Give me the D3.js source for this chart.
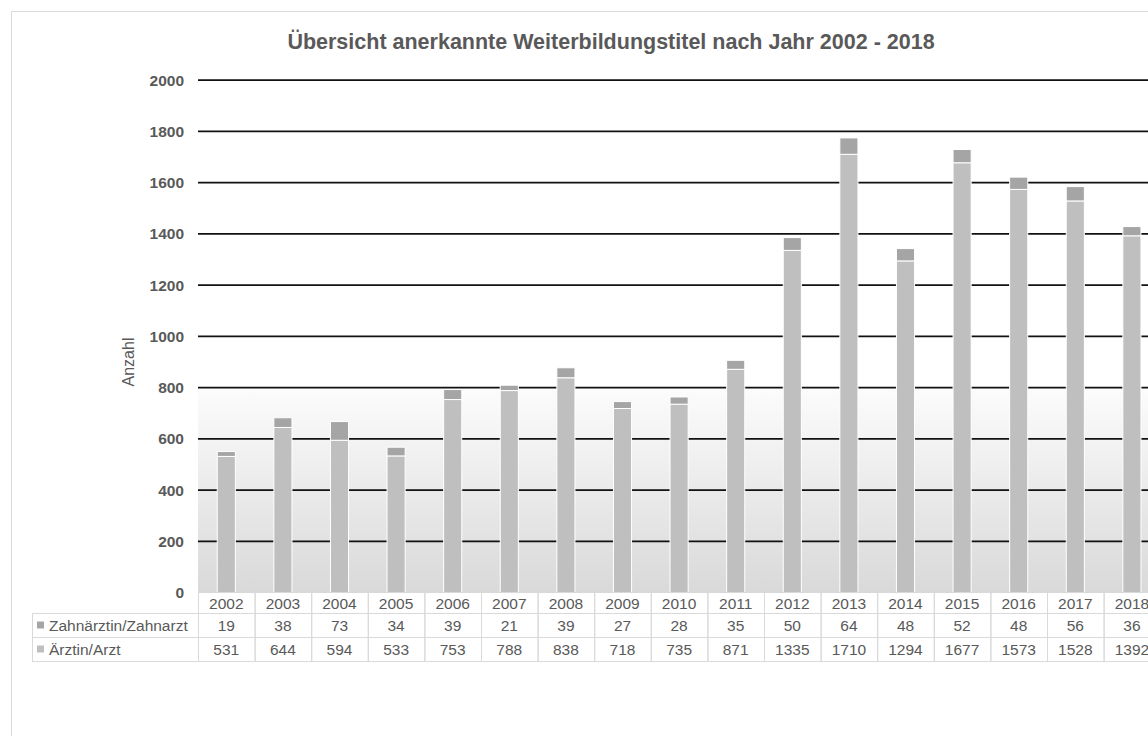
<!DOCTYPE html>
<html>
<head>
<meta charset="utf-8">
<script src="https://cdn.jsdelivr.net/npm/d3@7"></script>
<style>
  html, body { margin: 0; padding: 0; background: #fff; }
  svg { display: block; font-family: "Liberation Sans", Arial, sans-serif; }
</style>
</head>
<body>
<svg id="chart" width="1148" height="736"></svg>
<script>
const title = "Übersicht anerkannte Weiterbildungstitel nach Jahr 2002 - 2018";
const yAxisTitle = "Anzahl";
const years = ["2002","2003","2004","2005","2006","2007","2008","2009","2010","2011","2012","2013","2014","2015","2016","2017","2018"];
const zahnValues = [19, 38, 73, 34, 39, 21, 39, 27, 28, 35, 50, 64, 48, 52, 48, 56, 36];
const arztValues = [531, 644, 594, 533, 753, 788, 838, 718, 735, 871, 1335, 1710, 1294, 1677, 1573, 1528, 1392];
const seriesNames = ["Zahnärztin/Zahnarzt", "Ärztin/Arzt"];
const seriesColors = ["#a5a5a5", "#bfbfbf"];
const yTicks = [0, 200, 400, 600, 800, 1000, 1200, 1400, 1600, 1800, 2000];

const svg = d3.select("#chart");
const textColor = "#595959";

// chart outer border (extends beyond viewport)
svg.append("rect").attr("x", 11.5).attr("y", 11.5).attr("width", 1200).attr("height", 800)
  .attr("fill", "#fff").attr("stroke", "#d9d9d9").attr("stroke-width", 1);

const x = d3.scaleBand().domain(years).range([198, 198 + 17 * 56.6]);
const y = d3.scaleLinear().domain([0, 2000]).range([592.5, 80]);

// gradient background in lower plot area
const defs = svg.append("defs");
const grad = defs.append("linearGradient").attr("id", "bg").attr("x1", 0).attr("y1", 0).attr("x2", 0).attr("y2", 1);
grad.append("stop").attr("offset", "0%").attr("stop-color", "#fcfcfc");
grad.append("stop").attr("offset", "100%").attr("stop-color", "#d9d9d9");
svg.append("rect").attr("x", x.range()[0]).attr("y", y(800))
  .attr("width", x.range()[1] - x.range()[0]).attr("height", y(0) - y(800))
  .attr("fill", "url(#bg)");

// gridlines
svg.append("g").selectAll("line").data(yTicks.filter(d => d > 0)).join("line")
  .attr("x1", x.range()[0]).attr("x2", x.range()[1])
  .attr("y1", d => y(d)).attr("y2", d => y(d))
  .attr("stroke", "#111").attr("stroke-width", 1.75);

// y tick labels
svg.append("g").selectAll("text").data(yTicks).join("text")
  .attr("x", 184).attr("y", d => y(d)).attr("dy", "0.36em")
  .attr("text-anchor", "end").attr("font-size", 15.5).attr("font-weight", "bold")
  .attr("fill", textColor).text(d => d);

// y axis title
svg.append("text").attr("transform", "translate(134,362) rotate(-90)")
  .attr("text-anchor", "middle").attr("font-size", 16).attr("fill", textColor).text(yAxisTitle);

// title
svg.append("text").attr("x", 611).attr("y", 49).attr("text-anchor", "middle")
  .attr("font-size", 21.5).attr("font-weight", "bold").attr("fill", textColor).text(title);

// stacked bars
const rows = years.map((yr, i) => ({ year: yr, arzt: arztValues[i], zahn: zahnValues[i] }));
const stack = d3.stack().keys(["arzt", "zahn"])(rows);
const bw = x.bandwidth() * 0.32;
const colorFor = { arzt: seriesColors[1], zahn: seriesColors[0] };
svg.append("g").selectAll("g").data(stack).join("g")
  .attr("fill", d => colorFor[d.key])
  .selectAll("rect").data(d => d).join("rect")
  .attr("x", d => x(d.data.year) + (x.bandwidth() - bw) / 2)
  .attr("y", d => y(d[1]))
  .attr("width", bw)
  .attr("height", d => y(d[0]) - y(d[1]))
  .attr("stroke", "#fff").attr("stroke-width", 1);

// data table
const tTop = 592, hH = 21, rH = 24, labelLeft = 32.5;
const tableG = svg.append("g");
const border = "#d9d9d9";
// header cells
years.forEach(yr => {
  tableG.append("rect").attr("x", x(yr) + 0.5).attr("y", tTop + 0.5)
    .attr("width", x.bandwidth()).attr("height", hH)
    .attr("fill", "none").attr("stroke", border);
  tableG.append("text").attr("x", x(yr) + x.bandwidth() / 2).attr("y", tTop + hH / 2 + 0.5)
    .attr("dy", "0.36em").attr("text-anchor", "middle").attr("font-size", 15.5)
    .attr("fill", textColor).text(yr);
});
const tableRows = [
  { name: seriesNames[0], color: seriesColors[0], values: zahnValues },
  { name: seriesNames[1], color: seriesColors[1], values: arztValues }
];
tableRows.forEach((r, ri) => {
  const ty = tTop + hH + ri * rH;
  tableG.append("rect").attr("x", labelLeft).attr("y", ty + 0.5)
    .attr("width", x.range()[0] - labelLeft + 0.5).attr("height", rH)
    .attr("fill", "none").attr("stroke", border);
  tableG.append("rect").attr("x", 37).attr("y", ty + rH / 2 - 3.5).attr("width", 7).attr("height", 7)
    .attr("fill", r.color);
  tableG.append("text").attr("x", 49).attr("y", ty + rH / 2 + 0.5).attr("dy", "0.36em")
    .attr("font-size", 15.5).attr("fill", textColor).text(r.name);
  years.forEach((yr, i) => {
    tableG.append("rect").attr("x", x(yr) + 0.5).attr("y", ty + 0.5)
      .attr("width", x.bandwidth()).attr("height", rH)
      .attr("fill", "none").attr("stroke", border);
    tableG.append("text").attr("x", x(yr) + x.bandwidth() / 2).attr("y", ty + rH / 2 + 0.5)
      .attr("dy", "0.36em").attr("text-anchor", "middle").attr("font-size", 15.5)
      .attr("fill", textColor).text(r.values[i]);
  });
});
</script>
</body>
</html>
